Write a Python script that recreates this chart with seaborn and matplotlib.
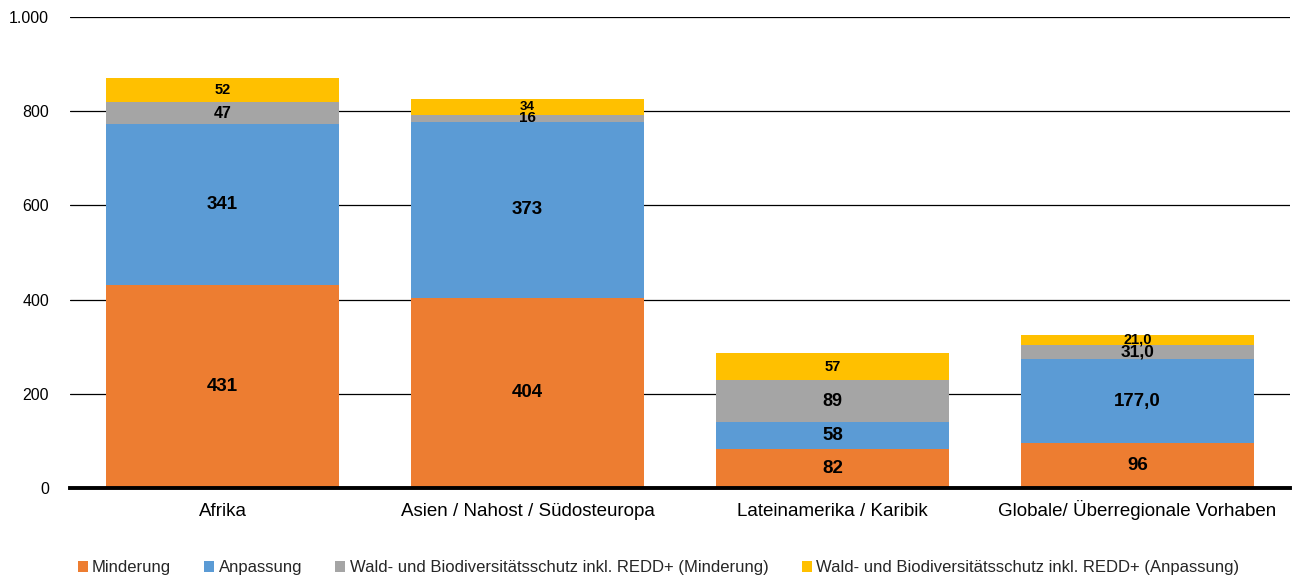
import matplotlib
matplotlib.use("Agg")
import matplotlib.pyplot as plt
import seaborn as sns
import numpy as np
import pandas as pd
from matplotlib.ticker import FuncFormatter
from matplotlib.patches import Patch

categories = ["Afrika", "Asien / Nahost / Südosteuropa", "Lateinamerika / Karibik",
              "Globale/ Überregionale Vorhaben"]
series_names = ["Minderung", "Anpassung",
                "Wald- und Biodiversitätsschutz inkl. REDD+ (Minderung)",
                "Wald- und Biodiversitätsschutz inkl. REDD+ (Anpassung)"]
minderung = [431, 404, 82, 96]
anpassung = [341, 373, 58, 177.0]
wald_minderung = [47, 16, 89, 31.0]
wald_anpassung = [52, 34, 57, 21.0]
# decimals shown in the data labels (per series, per category)
decimals = [[0, 0, 0, 0], [0, 0, 0, 1], [0, 0, 0, 1], [0, 0, 0, 1]]
yticks = [0, 200, 400, 600, 800, 1000]

colors = ["#ED7D31", "#5B9BD5", "#A5A5A5", "#FFC000"]
# label font sizes (style), per series, per category
label_sizes = [[13.5, 13.5, 13.5, 13.5],
               [13.5, 13.5, 13.5, 13.5],
               [11.5, 11, 13, 12.5],
               [10.5, 9.5, 10.5, 10.5]]

sns.set_theme(style="white")
plt.rcParams['font.family'] = ['Liberation Sans', 'DejaVu Sans']

fig = plt.figure(figsize=(13.09, 5.8), dpi=100)
ax = fig.add_axes([0.0535, 0.1586, 0.932, 0.812])

data = np.array([minderung, anpassung, wald_minderung, wald_anpassung], dtype=float)
cum = np.cumsum(data, axis=0)

for t in yticks[1:]:
    ax.axhline(t, color="black", lw=0.9, zorder=0)

# cumulative bars drawn from top down so lower segments overlay
for i in range(len(series_names) - 1, -1, -1):
    df = pd.DataFrame({"cat": categories, "val": cum[i]})
    sns.barplot(data=df, x="cat", y="val", color=colors[i], saturation=1,
                width=0.765, ax=ax, zorder=2, edgecolor="none", linewidth=0)

for i in range(len(series_names)):
    for j in range(len(categories)):
        v = data[i, j]
        y = cum[i, j] - v / 2
        d = decimals[i][j]
        txt = f"{v:.{d}f}".replace(".", ",")
        ax.text(j, y, txt, ha="center", va="center", fontsize=label_sizes[i][j],
                fontweight="bold", color="black", zorder=5)

ax.set_xlim(-0.5, 3.5)
ax.set_ylim(0, 1000)
ax.set_yticks(yticks)
ax.yaxis.set_major_formatter(FuncFormatter(lambda v, p: f"{int(v):,}".replace(",", ".")))
ax.set_xlabel("")
ax.set_ylabel("")
for s in ["left", "right", "top"]:
    ax.spines[s].set_visible(False)
ax.spines["bottom"].set_color("black")
ax.spines["bottom"].set_linewidth(2.8)
ax.spines["bottom"].set_zorder(6)
ax.tick_params(axis="y", length=0, pad=15, labelsize=11.5, colors="black")
ax.tick_params(axis="x", length=0, pad=20, labelsize=13.5, colors="black")
for lab in ax.get_xticklabels():
    lab.set_va("baseline")

handles = [Patch(facecolor=c, edgecolor="none") for c in colors]
fig.legend(handles, series_names, loc="center", bbox_to_anchor=(0.503, 0.021),
           ncol=4, frameon=False, fontsize=12, handlelength=0.6, handleheight=0.6,
           handletextpad=0.25, columnspacing=2.0)

fig.savefig("out.png", dpi=100)
